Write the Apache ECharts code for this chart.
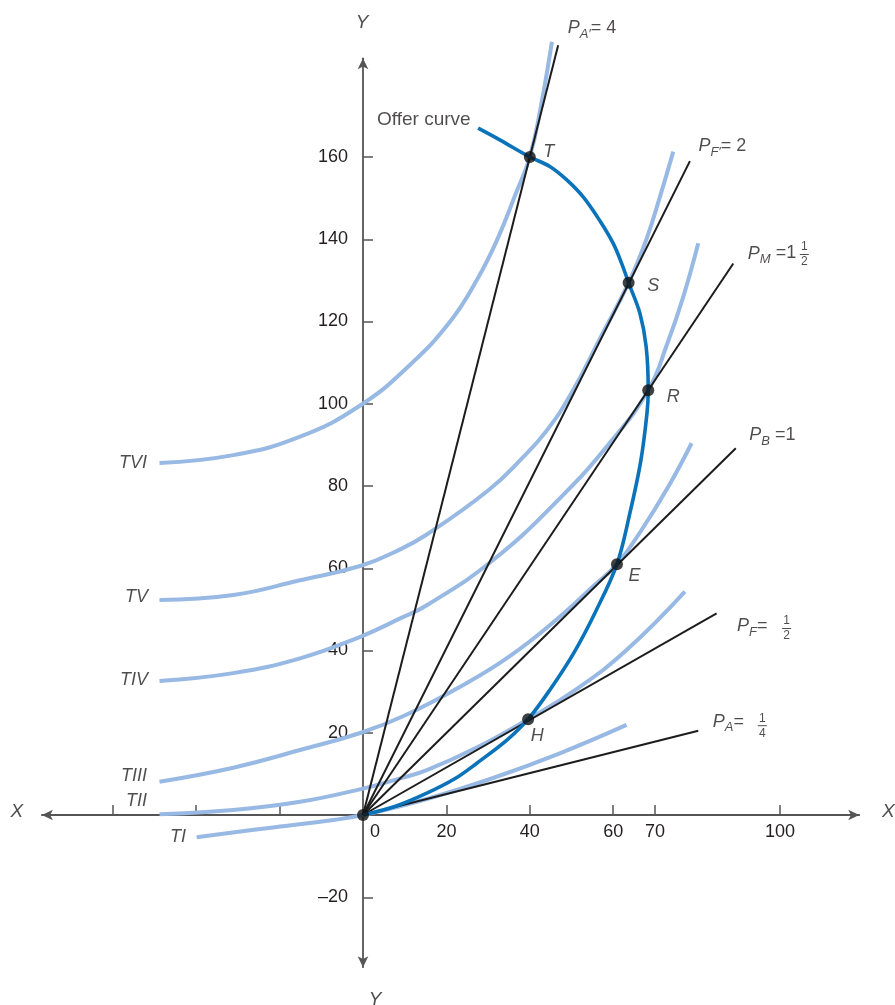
<!DOCTYPE html>
<html><head><meta charset="utf-8">
<script src="https://cdn.jsdelivr.net/npm/echarts@6/dist/echarts.min.js"></script>
<style>html,body{margin:0;padding:0;background:#fff}#c{width:895px;height:1005px}</style>
</head><body><div id="c"></div>
<script>
// ---------- data ----------
const xTickValues = [-60, -40, -20, 20, 40, 60, 70, 100];
const xLabelValues = [0, 20, 40, 60, 70, 100];
const yTickValues = [-20, 20, 40, 60, 80, 100, 120, 140, 160];

const curveNames = ['TI', 'TII', 'TIII', 'TIV', 'TV', 'TVI'];
const curveTI = [[-39.9,-5.4],[-23.1,-3.2],[-7.1,-1.2],[0,0],[15.3,3.9],[31.2,9.0],[47.2,15.0],[63.2,21.9]];
const curveTII = [[-48.8,0.2],[-31.1,1.2],[-15.1,3.2],[-0.5,6.3],[8.9,8.9],[15.3,10.9],[27.3,16.4],[39.6,23.3],[51.2,30.6],[63.2,40.1],[77.2,54.3]];
const curveTIII = [[-48.8,8.1],[-31.1,11.5],[-15.1,15.8],[-0.5,20.0],[10,24.2],[23.3,31.2],[35.3,38.7],[47.2,48.2],[55.2,55.6],[60.9,61.0],[66.8,69.3],[73.2,79.8],[78.8,90.4]];
const curveTIV = [[-48.8,32.6],[-31.1,34.5],[-15.1,38.1],[-0.5,43.4],[8.9,47.8],[15.3,51.0],[31.2,62.0],[47.2,77.0],[59.2,90.5],[68.4,103.3],[73.0,114.7],[76.8,126.0],[80.4,139.0]];
const curveTV = [[-48.8,52.3],[-31.1,53.5],[-15.1,57.1],[-0.5,60.6],[8.9,64.6],[15.3,68.2],[30.0,78.9],[38.0,86.6],[44.0,93.4],[50.0,102.6],[57.0,116.2],[63.7,129.4],[67.9,139.8],[71.2,150.3],[74.4,161.3]];
const curveTVI = [[-48.8,85.6],[-31.1,87.5],[-15.1,92.0],[-0.5,99.7],[11.3,109.5],[20.9,120.0],[27.3,130.1],[32.0,139.5],[36.6,151.0],[40.0,160.0],[42.6,172.0],[45.3,188.0]];

const offerCurve = [[0,0],[8,2.2],[15.3,5.3],[22,8.8],[27.3,12.6],[34.5,18.2],[39.6,23.3],[44.8,30.4],[50.6,39.5],[55.8,49.5],[60.9,61.0],[64.0,73.4],[66.6,86.0],[68.1,97.7],[68.4,103.3],[67.9,113.9],[66.4,122.0],[63.7,129.4],[62.0,134.2],[60.0,139.0],[56.8,144.5],[52.8,150.3],[48.8,154.5],[44.8,157.7],[40.0,160.0],[32.9,164.1],[27.6,167.0]];

const rayEndX = [46.8, 78.4, 88.8, 89.4, 84.8, 80.4];
const rayEndY = [187.2, 159.0, 134.1, 89.2, 49.0, 20.5];
const rayText = ['{p|P}{s|A′}{t|= 4}', '{p|P}{s|F′}{t|= 2}', '{p|P}{s|M}{t| =1}', '{p|P}{s|B}{t| =1}', '{p|P}{s|F}{t|= }', '{p|P}{s|A}{t|= }'];
const rayFracNum = [null, null, '1', null, '1', '1'];
const rayFracDen = [null, null, '2', null, '2', '4'];

const pointNames = ['T', 'S', 'R', 'E', 'H'];
const pointX = [40.0, 63.7, 68.4, 60.9, 39.6];
const pointY = [160.0, 129.4, 103.3, 61.0, 23.3];

const offerLabel = 'Offer curve';
const axisNames = ['X', 'X', 'Y', 'Y'];

// ---------- layout / style ----------
const FONT = "'Liberation Sans', Arial, Helvetica, sans-serif";
const TXT = '#231f20';
const LIGHT = '#97b9e3';
const OFFER = '#0a73b9';
const BLACK = '#1c1c1c';
const AXIS = '#555555';
const xMin = -77, xMax = 119, yMin = -37, yMax = 184;

const curveLabelDist = [10, 12, 12, 11, 11, 12];
const curveLabelDy = [0, -13, -6, -1, -3, 0];
const rayLabelOffset = [[9,-17],[8,-15],[14,-10],[13,-13],[20,13],[14,-9]];
const rayFracOffset = [null, null, [66,-9], null, [65,15], [59,-5]];
const pointLabelOffset = [[13,-5],[18,3],[18,7],[11,12],[2,17]];

const curves = [curveTI, curveTII, curveTIII, curveTIV, curveTV, curveTVI];

const series = [];
curves.forEach((c, i) => {
  series.push({
    name: curveNames[i], type: 'line', data: c, smooth: 0.45, showSymbol: false,
    clip: false, silent: true, z: 1,
    lineStyle: { color: LIGHT, width: 4 }
  });
});
rayEndX.forEach((x, i) => {
  series.push({
    type: 'line', data: [[0, 0], [x, rayEndY[i]]], showSymbol: false,
    clip: false, silent: true, z: 2,
    lineStyle: { color: BLACK, width: 2 }
  });
});
series.push({
  name: offerLabel, type: 'line', data: offerCurve, smooth: 0.35, showSymbol: false,
  clip: false, silent: true, z: 3,
  lineStyle: { color: OFFER, width: 3.6 }
});
// dots
series.push({
  type: 'scatter', z: 5, silent: true, symbolSize: 12, clip: false,
  itemStyle: { color: '#111' },
  data: [[0, 0]].concat(pointX.map((x, i) => [x, pointY[i]]))
});

const hidden = { type: 'scatter', symbolSize: 1, itemStyle: { color: 'rgba(0,0,0,0)' }, silent: true, z: 6, clip: false };
// point labels
series.push(Object.assign({}, hidden, {
  data: pointX.map((x, i) => ({
    value: [x, pointY[i]],
    label: { show: true, position: 'right', distance: 0, offset: pointLabelOffset[i],
      formatter: pointNames[i], fontFamily: FONT, fontStyle: 'italic', fontSize: 18, color: TXT }
  }))
}));
// curve labels
series.push(Object.assign({}, hidden, {
  data: curves.map((c, i) => ({
    value: c[0],
    label: { show: true, position: 'left', distance: curveLabelDist[i], offset: [0, curveLabelDy[i]],
      formatter: curveNames[i], fontFamily: FONT, fontStyle: 'italic', fontSize: 18, color: TXT }
  }))
}));
// ray labels
const rayRich = {
  p: { fontStyle: 'italic', fontSize: 18, color: TXT, fontFamily: FONT },
  s: { fontStyle: 'italic', fontSize: 13, color: TXT, fontFamily: FONT, padding: [12, 0, 0, 0] },
  t: { fontSize: 18, color: TXT, fontFamily: FONT }
};
series.push(Object.assign({}, hidden, {
  data: rayEndX.map((x, i) => ({
    value: [x, rayEndY[i]],
    label: { show: true, position: 'right', distance: 0, offset: rayLabelOffset[i],
      formatter: rayText[i], rich: rayRich, fontFamily: FONT, fontSize: 18, color: TXT }
  }))
}));
// fractions
const fracRich = {
  n: { fontSize: 12, lineHeight: 12, width: 9, align: 'center', color: TXT, fontFamily: FONT },
  bar: { width: 9, height: 1, lineHeight: 3, backgroundColor: TXT, fontSize: 1 },
  d: { fontSize: 12, lineHeight: 12, width: 9, align: 'center', color: TXT, fontFamily: FONT }
};
series.push(Object.assign({}, hidden, {
  data: rayEndX.map((x, i) => ({ x, i })).filter(o => rayFracNum[o.i]).map(o => ({
    value: [o.x, rayEndY[o.i]],
    label: { show: true, position: 'right', distance: 0, offset: rayFracOffset[o.i],
      formatter: '{n|' + rayFracNum[o.i] + '}\n{bar| }\n{d|' + rayFracDen[o.i] + '}', rich: fracRich }
  }))
}));
// offer curve label
series.push(Object.assign({}, hidden, {
  data: [{
    value: offerCurve[offerCurve.length - 1],
    label: { show: true, position: 'left', distance: 7, offset: [0, -8],
      formatter: offerLabel, fontFamily: FONT, fontSize: 19, color: TXT }
  }]
}));
// axis names
const axisNamePts = [[xMin, 0], [xMax, 0], [0, yMax], [0, yMin]];
const axisNameOffset = [[-25, -3], [29, -3], [-1, -36], [12, 33]];
series.push(Object.assign({}, hidden, {
  data: axisNamePts.map((p, i) => ({
    value: p,
    label: { show: true, position: 'inside', offset: axisNameOffset[i],
      formatter: axisNames[i], fontFamily: FONT, fontStyle: 'italic', fontSize: 19, color: TXT }
  }))
}));

const chart = echarts.init(document.getElementById('c'), null, { renderer: 'canvas' });
const pxPerX = 4.17, pxPerY = 4.1125, ox = 363, oy = 815;
chart.setOption({
  animation: false,
  backgroundColor: '#ffffff',
  textStyle: { fontFamily: FONT },
  grid: {
    left: ox + xMin * pxPerX, width: (xMax - xMin) * pxPerX,
    top: oy - yMax * pxPerY, height: (yMax - yMin) * pxPerY,
    containLabel: false
  },
  xAxis: {
    type: 'value', min: xMin, max: xMax, position: 'bottom',
    offset: yMin * pxPerY,
    splitLine: { show: false },
    axisLine: { show: true, onZero: false, symbol: ['arrow', 'arrow'], symbolSize: [8, 11],
      lineStyle: { color: AXIS, width: 1.8 } },
    axisTick: { show: true, inside: true, length: 10, customValues: xTickValues,
      lineStyle: { color: AXIS, width: 1.5 } },
    axisLabel: { show: true, customValues: xLabelValues, margin: 8, fontSize: 18, color: TXT, fontFamily: FONT,
      formatter: v => v === 0 ? '{z|0}' : String(v),
      rich: { z: { padding: [0, 0, 0, 24], fontSize: 18, color: TXT, fontFamily: FONT } } }
  },
  yAxis: {
    type: 'value', min: yMin, max: yMax, position: 'left',
    offset: xMin * pxPerX,
    splitLine: { show: false },
    axisLine: { show: true, onZero: false, symbol: ['arrow', 'arrow'], symbolSize: [8, 11],
      lineStyle: { color: AXIS, width: 1.8 } },
    axisTick: { show: true, inside: true, length: 10, customValues: yTickValues,
      lineStyle: { color: AXIS, width: 1.5 } },
    axisLabel: { show: true, customValues: yTickValues, margin: 15, fontSize: 18, color: TXT, fontFamily: FONT,
      formatter: v => v < 0 ? '–' + Math.abs(v) : String(v) }
  },
  series: series
});
</script></body></html>
